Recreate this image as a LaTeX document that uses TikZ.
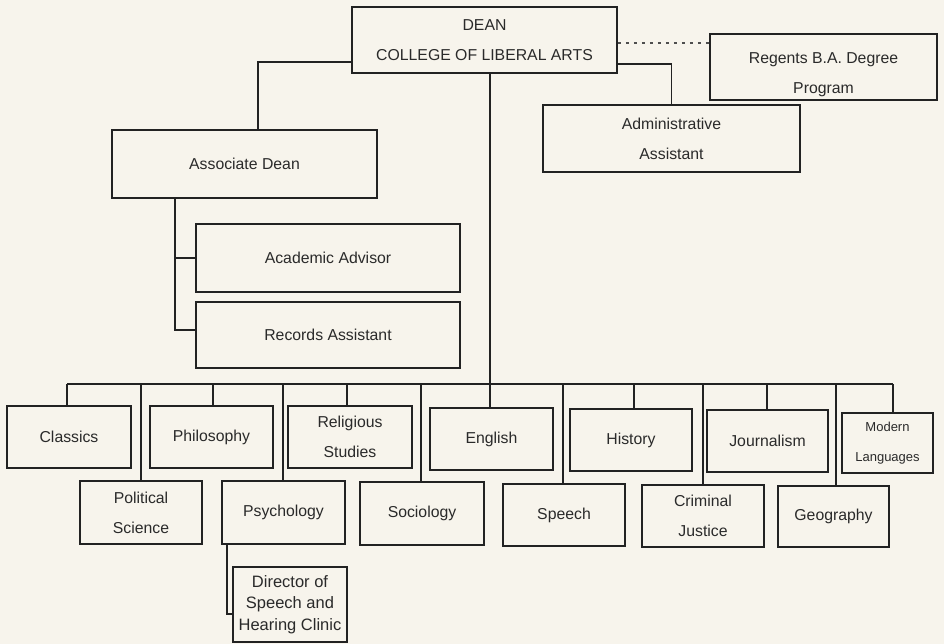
\documentclass[tikz,border=0pt]{standalone}
\usepackage{fontspec}
\setmainfont{Liberation Sans}
\definecolor{paper}{HTML}{F7F4EC}
\definecolor{ink}{HTML}{222222}
\definecolor{txt}{HTML}{2A2A2A}
\begin{document}
\begin{tikzpicture}[x=1pt,y=-1pt,
  box/.style={draw=ink, line width=1.7pt, inner sep=0pt, text=txt, align=center,
    font=\fontsize{15.8}{30}\selectfont},
  link/.style={draw=ink, line width=1.7pt},
  dotlink/.style={draw=ink!80, line width=1.2pt, dash pattern=on 3pt off 5pt}]
\fill[paper] (0,0) rectangle (944,644);
\useasboundingbox (0,0) rectangle (944,644);
% top level
\node[box, minimum width=265pt, minimum height=66pt] (dean) at (484.5,40) {DEAN\\COLLEGE OF LIBERAL ARTS};
\node[box, minimum width=227pt, minimum height=66pt] (regents) at (823.5,67) {\raisebox{-8pt}[\height][\depth]{\shortstack{Regents B.A. Degree\\[13pt]Program}}};
\node[box, minimum width=265pt, minimum height=68pt] (assoc) at (244.5,164) {Associate Dean};
\node[box, minimum width=257pt, minimum height=67pt] (admin) at (671.5,138.5) {Administrative\\Assistant};
\node[box, minimum width=264pt, minimum height=68pt] (advisor) at (328,258) {Academic Advisor};
\node[box, minimum width=264pt, minimum height=66pt] (records) at (328,335) {Records Assistant};
% departments, top row
\node[box, minimum width=124pt, minimum height=62pt] (classics) at (69,437) {Classics};
\node[box, minimum width=123pt, minimum height=62pt] (philo) at (211.5,437) {Philosophy};
\node[box, minimum width=124pt, minimum height=62pt] (relig) at (350,437) {Religious\\Studies};
\node[box, minimum width=123pt, minimum height=62pt] (english) at (491.5,439) {English};
\node[box, minimum width=122pt, minimum height=62pt] (history) at (631,440) {History};
\node[box, minimum width=121pt, minimum height=62pt] (journal) at (767.5,441) {Journalism};
\node[box, minimum width=91pt, minimum height=60pt, font=\fontsize{13}{30}\selectfont] (modern) at (887.5,443) {Modern\\Languages};
% departments, bottom row
\node[box, minimum width=122pt, minimum height=63pt] (polsci) at (141,512.5) {Political\\Science};
\node[box, minimum width=123pt, minimum height=63pt] (psych) at (283.5,512.5) {Psychology};
\node[box, minimum width=124pt, minimum height=63pt] (socio) at (422,513.5) {Sociology};
\node[box, minimum width=122pt, minimum height=62pt] (speech) at (564,515) {Speech};
\node[box, minimum width=122pt, minimum height=62pt] (crimjus) at (703,516) {Criminal\\Justice};
\node[box, minimum width=111pt, minimum height=61pt] (geog) at (833.5,516.5) {Geography};
\node[box, minimum width=114pt, minimum height=75pt, font=\fontsize{16.5}{21.5}\selectfont] (director) at (290,604.5) {Director of\\Speech and\\Hearing Clinic};
% connectors from dean
\draw[link] ([yshift=-22pt]dean.west) -| ([xshift=13.5pt]assoc.north);
\draw[link] ([yshift=-24pt]dean.east) -| (admin.north);
\draw[dotlink] ([yshift=-3pt]dean.east) -- ([yshift=-3pt]dean.east -| regents.west);
% associate dean staff
\coordinate (av) at (175,330);
\draw[link] (assoc.south -| av) -- (av) -- (av -| records.west);
\draw[link] (advisor.west) -- (advisor.west -| av);
% main trunk and bus
\coordinate (m) at (490,384);
\coordinate (busL) at (67,384);
\coordinate (busR) at (893,384);
\draw[link] (m |- dean.south) -- (m |- english.north);
\draw[link] (busL) -- (busR);
\foreach \n/\x in {classics/67, polsci/141, philo/213, psych/283, relig/347, socio/421, speech/563, history/634, crimjus/703, journal/767, geog/836, modern/893}{
  \coordinate (d\n) at (\x,384);
  \draw[link] (d\n) -- (d\n |- \n.north);
}
% psychology to clinic
\coordinate (pv) at (227,614);
\draw[link] (psych.south -| pv) -- (pv) -- (pv -| director.west);
\end{tikzpicture}
\end{document}
